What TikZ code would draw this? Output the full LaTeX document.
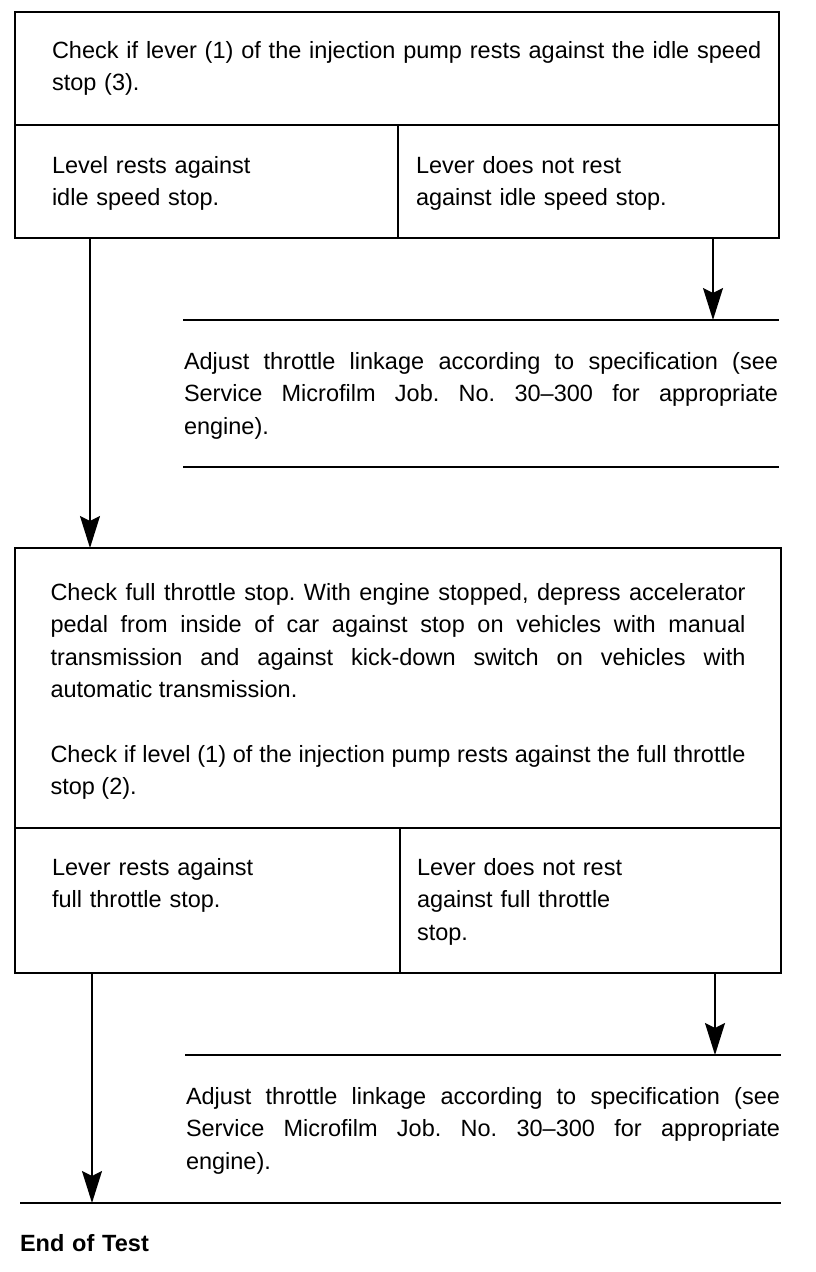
\documentclass[tikz,border=0pt]{standalone}
\usepackage{fontspec}
\setmainfont{Liberation Sans}
\usetikzlibrary{arrows.meta}
\hfuzz=30pt
\tikzset{
	cell/.style={draw, line width=1.6pt, outer sep=0pt, anchor=north west, inner ysep=0pt, align=left},
	note/.style={anchor=north west, outer sep=0pt, inner ysep=0pt, inner xsep=1pt, text width=594pt, align=justify},
	rule/.style={line width=1.8pt},
	flow/.style={line width=1.6pt, -{Stealth[length=32pt,width=20pt,inset=5pt]}}
}
\begin{document}
\begin{tikzpicture}[x=1pt,y=-1pt,font=\fontsize{23.5pt}{32.5pt}\selectfont\frenchspacing]
			\useasboundingbox (0,0) rectangle (816,1272);
			% first test
			\node[cell, inner xsep=37pt, text width=690pt, text height=46pt, text depth=67pt] (idlechk) at (15,12)
				{\mbox{Check if lever (1) of the injection pump rests against the idle speed}\\stop (3).};
			\node[cell, inner xsep=37pt, text width=309pt, text height=48pt, text depth=65pt] (idleyes) at (15,125)
				{Level rests against\\idle speed stop.};
			\node[cell, inner xsep=18pt, text width=345pt, text height=48pt, text depth=65pt] (idleno) at (398,125)
				{Lever does not rest\\against idle speed stop.};
			\node[note, text height=49pt, text depth=98pt] (adjidle) at (183,320)
				{Adjust throttle linkage according to specification (see\linebreak Service Microfilm Job. No. 30--300 for appropriate\linebreak engine).};
			\draw[rule] (adjidle.north west) -- (adjidle.north east);
			\draw[rule] (adjidle.south west) -- (adjidle.south east);
			% second test
			\node[cell, align=justify, inner xsep=35.5pt, text width=695pt, text height=52pt, text depth=228pt] (fullchk) at (15,548)
				{Check full throttle stop. With engine stopped, depress accelerator\linebreak pedal from inside of car against stop on vehicles with manual\linebreak transmission and against kick-down switch on vehicles with\linebreak automatic transmission.\par\vspace{32pt}Check if level (1) of the injection pump rests against the full throttle\linebreak stop (2).};
			\node[cell, inner xsep=37pt, text width=311pt, text height=47pt, text depth=98pt] (fullyes) at (15,828)
				{Lever rests against\\full throttle stop.};
			\node[cell, inner xsep=17pt, text width=347pt, text height=47pt, text depth=98pt] (fullno) at (400,828)
				{Lever does not rest\\against full throttle\\stop.};
			\node[note, text height=49pt, text depth=99pt] (adjfull) at (185,1055)
				{Adjust throttle linkage according to specification (see\linebreak Service Microfilm Job. No. 30--300 for appropriate\linebreak engine).};
			\draw[rule] (adjfull.north west) -- (adjfull.north east);
			\node[anchor=north west, outer sep=0pt, inner sep=0pt, text width=761pt, text height=48pt, text depth=21pt, font=\fontsize{23.5pt}{32.5pt}\selectfont\bfseries] (endtest) at (20,1203) {End of Test};
			\draw[rule] (endtest.north west) -- (endtest.north east);
			% arrows
			\draw[flow] ([xshift=75pt]idleyes.south west) -- ([xshift=75pt]fullchk.north west);
			\draw[flow] ([xshift=-66pt]idleno.south east) -- ([xshift=-66pt]adjidle.north east);
			\draw[flow] ([xshift=77pt]fullyes.south west) -- ([xshift=72pt]endtest.north west);
			\draw[flow] ([xshift=-66pt]fullno.south east) -- ([xshift=-66pt]adjfull.north east);
		\end{tikzpicture}
\end{document}
